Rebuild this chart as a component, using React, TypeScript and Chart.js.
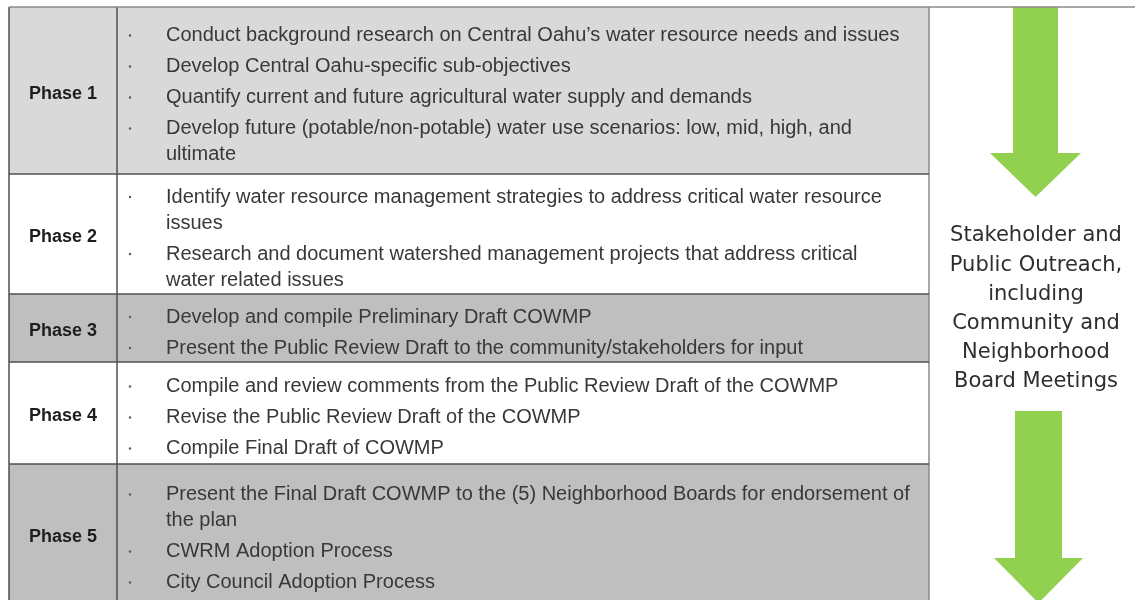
import React, { useEffect, useRef } from "react";
import { Chart, registerables } from "chart.js";

Chart.register(...registerables);

// ---------- data ----------
const phases = ["Phase 1", "Phase 2", "Phase 3", "Phase 4", "Phase 5"];

const phase1Tasks = [
  ["Conduct background research on Central Oahu’s water resource needs and issues"],
  ["Develop Central Oahu-specific sub-objectives"],
  ["Quantify current and future agricultural water supply and demands"],
  ["Develop future (potable/non-potable) water use scenarios: low, mid, high, and", "ultimate"],
];
const phase2Tasks = [
  ["Identify water resource management strategies to address critical water resource", "issues"],
  ["Research and document watershed management projects that address critical", "water related issues"],
];
const phase3Tasks = [
  ["Develop and compile Preliminary Draft COWMP"],
  ["Present the Public Review Draft to the community/stakeholders for input"],
];
const phase4Tasks = [
  ["Compile and review comments from the Public Review Draft of the COWMP"],
  ["Revise the Public Review Draft of the COWMP"],
  ["Compile Final Draft of COWMP"],
];
const phase5Tasks = [
  ["Present the Final Draft COWMP to the (5) Neighborhood Boards for endorsement of", "the plan"],
  ["CWRM Adoption Process"],
  ["City Council Adoption Process"],
];
const outreachLines = [
  "Stakeholder and",
  "Public Outreach,",
  "including",
  "Community and",
  "Neighborhood",
  "Board Meetings",
];

// ---------- layout & style ----------
const PAGE_W = 1135;
const PAGE_H = 600;
const ROW_EDGES = [7, 174, 294, 362, 464, 604];
const COL_EDGES = [9, 117, 929];
const ROW_FILLS = ["#d9d9d9", "#ffffff", "#bfbfbf", "#ffffff", "#bfbfbf"];
const GRID_DARK = "#505050";
const GRID_LIGHT = "#8a8a8a";
const ARROW_GREEN = "#92d050";
const BULLET_X = 130;
const TEXT_X = 166;
const WRAP_GAP = 26;
const ITEM_GAP = 31;
const TEXT_SHIFT = 3;
const LABEL_SHIFT = 3.5;
const ARROWS = [
  { shaft: [1013, 1058], top: 7, neck: 154, head: [990, 1081], tip: 197 },
  { shaft: [1015, 1062], top: 411, neck: 559, head: [994, 1083], tip: 603 },
];
const OUTREACH_X = 1036;
const OUTREACH_Y0 = 236;
const OUTREACH_GAP = 29.2;

const allTasks = [phase1Tasks, phase2Tasks, phase3Tasks, phase4Tasks, phase5Tasks];

const transparent = "rgba(0,0,0,0)";

function rectDataset(x0: number, x1: number, y0: number, y1: number, color: string, order: number) {
  return {
    data: [
      { x: x0, y: y0 },
      { x: x1, y: y0 },
    ],
    showLine: true,
    fill: { value: y1 },
    backgroundColor: color,
    borderColor: transparent,
    borderWidth: 0,
    pointRadius: 0,
    order,
  };
}

function lineDataset(pts: number[][], color: string, width: number) {
  return {
    data: pts.map(([x, y]) => ({ x, y })),
    showLine: true,
    fill: false,
    borderColor: color,
    backgroundColor: color,
    borderWidth: width,
    pointRadius: 0,
    order: 0,
  };
}

function buildDatasets() {
  const ds: any[] = [];
  for (let r = 0; r < phases.length; r++) {
    const y0 = ROW_EDGES[r];
    const y1 = ROW_EDGES[r + 1];
    ds.push(rectDataset(COL_EDGES[0], COL_EDGES[1], y0, y1, ROW_FILLS[r], 3));
    ds.push(rectDataset(COL_EDGES[1], COL_EDGES[2], y0, y1, ROW_FILLS[r], 3));
  }
  for (const a of ARROWS) {
    ds.push(rectDataset(a.shaft[0], a.shaft[1], a.top, a.neck, ARROW_GREEN, 2));
    ds.push({
      data: [
        { x: a.head[0], y: a.neck - 1 },
        { x: (a.head[0] + a.head[1]) / 2, y: a.tip },
        { x: a.head[1], y: a.neck - 1 },
      ],
      showLine: true,
      fill: { value: a.neck - 1 },
      backgroundColor: ARROW_GREEN,
      borderColor: transparent,
      borderWidth: 0,
      pointRadius: 0,
      tension: 0,
      order: 2,
    });
  }
  ds.push(lineDataset([[COL_EDGES[0], ROW_EDGES[0]], [PAGE_W, ROW_EDGES[0]]], GRID_LIGHT, 1.5));
  for (let r = 1; r < ROW_EDGES.length - 1; r++) {
    ds.push(lineDataset([[COL_EDGES[0], ROW_EDGES[r]], [COL_EDGES[2], ROW_EDGES[r]]], GRID_DARK, 1.5));
  }
  ds.push(lineDataset([[COL_EDGES[0], ROW_EDGES[0]], [COL_EDGES[0], PAGE_H]], GRID_DARK, 1.5));
  ds.push(lineDataset([[COL_EDGES[1], ROW_EDGES[0]], [COL_EDGES[1], PAGE_H]], GRID_DARK, 1.5));
  ds.push(lineDataset([[COL_EDGES[2], ROW_EDGES[0]], [COL_EDGES[2], PAGE_H]], GRID_LIGHT, 1.5));
  return ds;
}

const textPlugin = {
  id: "tableText",
  afterDatasetsDraw(chart: any) {
    const { ctx, scales } = chart;
    const xs = scales.x;
    const ys = scales.y;
    ctx.save();
    ctx.textBaseline = "middle";
    for (let r = 0; r < phases.length; r++) {
      const yTop = ROW_EDGES[r];
      const yBot = ROW_EDGES[r + 1];
      const center = (yTop + yBot) / 2 + 1.5;
      ctx.fillStyle = "#1e1e1e";
      ctx.font = "bold 18px 'Liberation Sans', Arial, sans-serif";
      ctx.textAlign = "center";
      ctx.fillText(
        phases[r],
        xs.getPixelForValue((COL_EDGES[0] + COL_EDGES[1]) / 2),
        ys.getPixelForValue(center + LABEL_SHIFT - 1.5)
      );
      const tasks = allTasks[r];
      const offsets: { dy: number; text: string; bullet: boolean }[] = [];
      let dy = 0;
      tasks.forEach((lines, i) => {
        if (i > 0) dy += ITEM_GAP;
        lines.forEach((t, j) => {
          if (j > 0) dy += WRAP_GAP;
          offsets.push({ dy, text: t, bullet: j === 0 });
        });
      });
      const first = center - dy / 2 + TEXT_SHIFT;
      ctx.font = "20px 'Liberation Sans', Arial, sans-serif";
      ctx.textAlign = "left";
      for (const o of offsets) {
        const py = ys.getPixelForValue(first + o.dy);
        ctx.fillStyle = "#383838";
        ctx.fillText(o.text, xs.getPixelForValue(TEXT_X), py);
        if (o.bullet) {
          ctx.fillStyle = "#5a5a5a";
          ctx.beginPath();
          ctx.arc(xs.getPixelForValue(BULLET_X), py, 1.2, 0, Math.PI * 2);
          ctx.fill();
        }
      }
    }
    ctx.font = "21px 'DejaVu Sans', sans-serif";
    ctx.textAlign = "center";
    ctx.fillStyle = "#2e2e2e";
    outreachLines.forEach((t, i) => {
      ctx.fillText(t, xs.getPixelForValue(OUTREACH_X), ys.getPixelForValue(OUTREACH_Y0 + i * OUTREACH_GAP));
    });
    ctx.restore();
  },
};

export default function App() {
  const ref = useRef<HTMLCanvasElement | null>(null);
  useEffect(() => {
    if (!ref.current) return;
    const chart = new Chart(ref.current, {
      type: "scatter",
      data: { datasets: buildDatasets() },
      options: {
        animation: false,
        responsive: false,
        events: [],
        layout: { padding: 0 },
        plugins: { legend: { display: false }, tooltip: { enabled: false } },
        scales: {
          x: { type: "linear", min: 0, max: PAGE_W, display: false },
          y: { type: "linear", min: 0, max: PAGE_H, reverse: true, display: false },
        },
      },
      plugins: [textPlugin],
    } as any);
    return () => chart.destroy();
  }, []);
  return (
    <div style={{ position: "fixed", left: 0, top: 0, width: PAGE_W, height: PAGE_H, background: "#fff" }}>
      <canvas ref={ref} width={PAGE_W} height={PAGE_H} style={{ display: "block" }} />
    </div>
  );
}
